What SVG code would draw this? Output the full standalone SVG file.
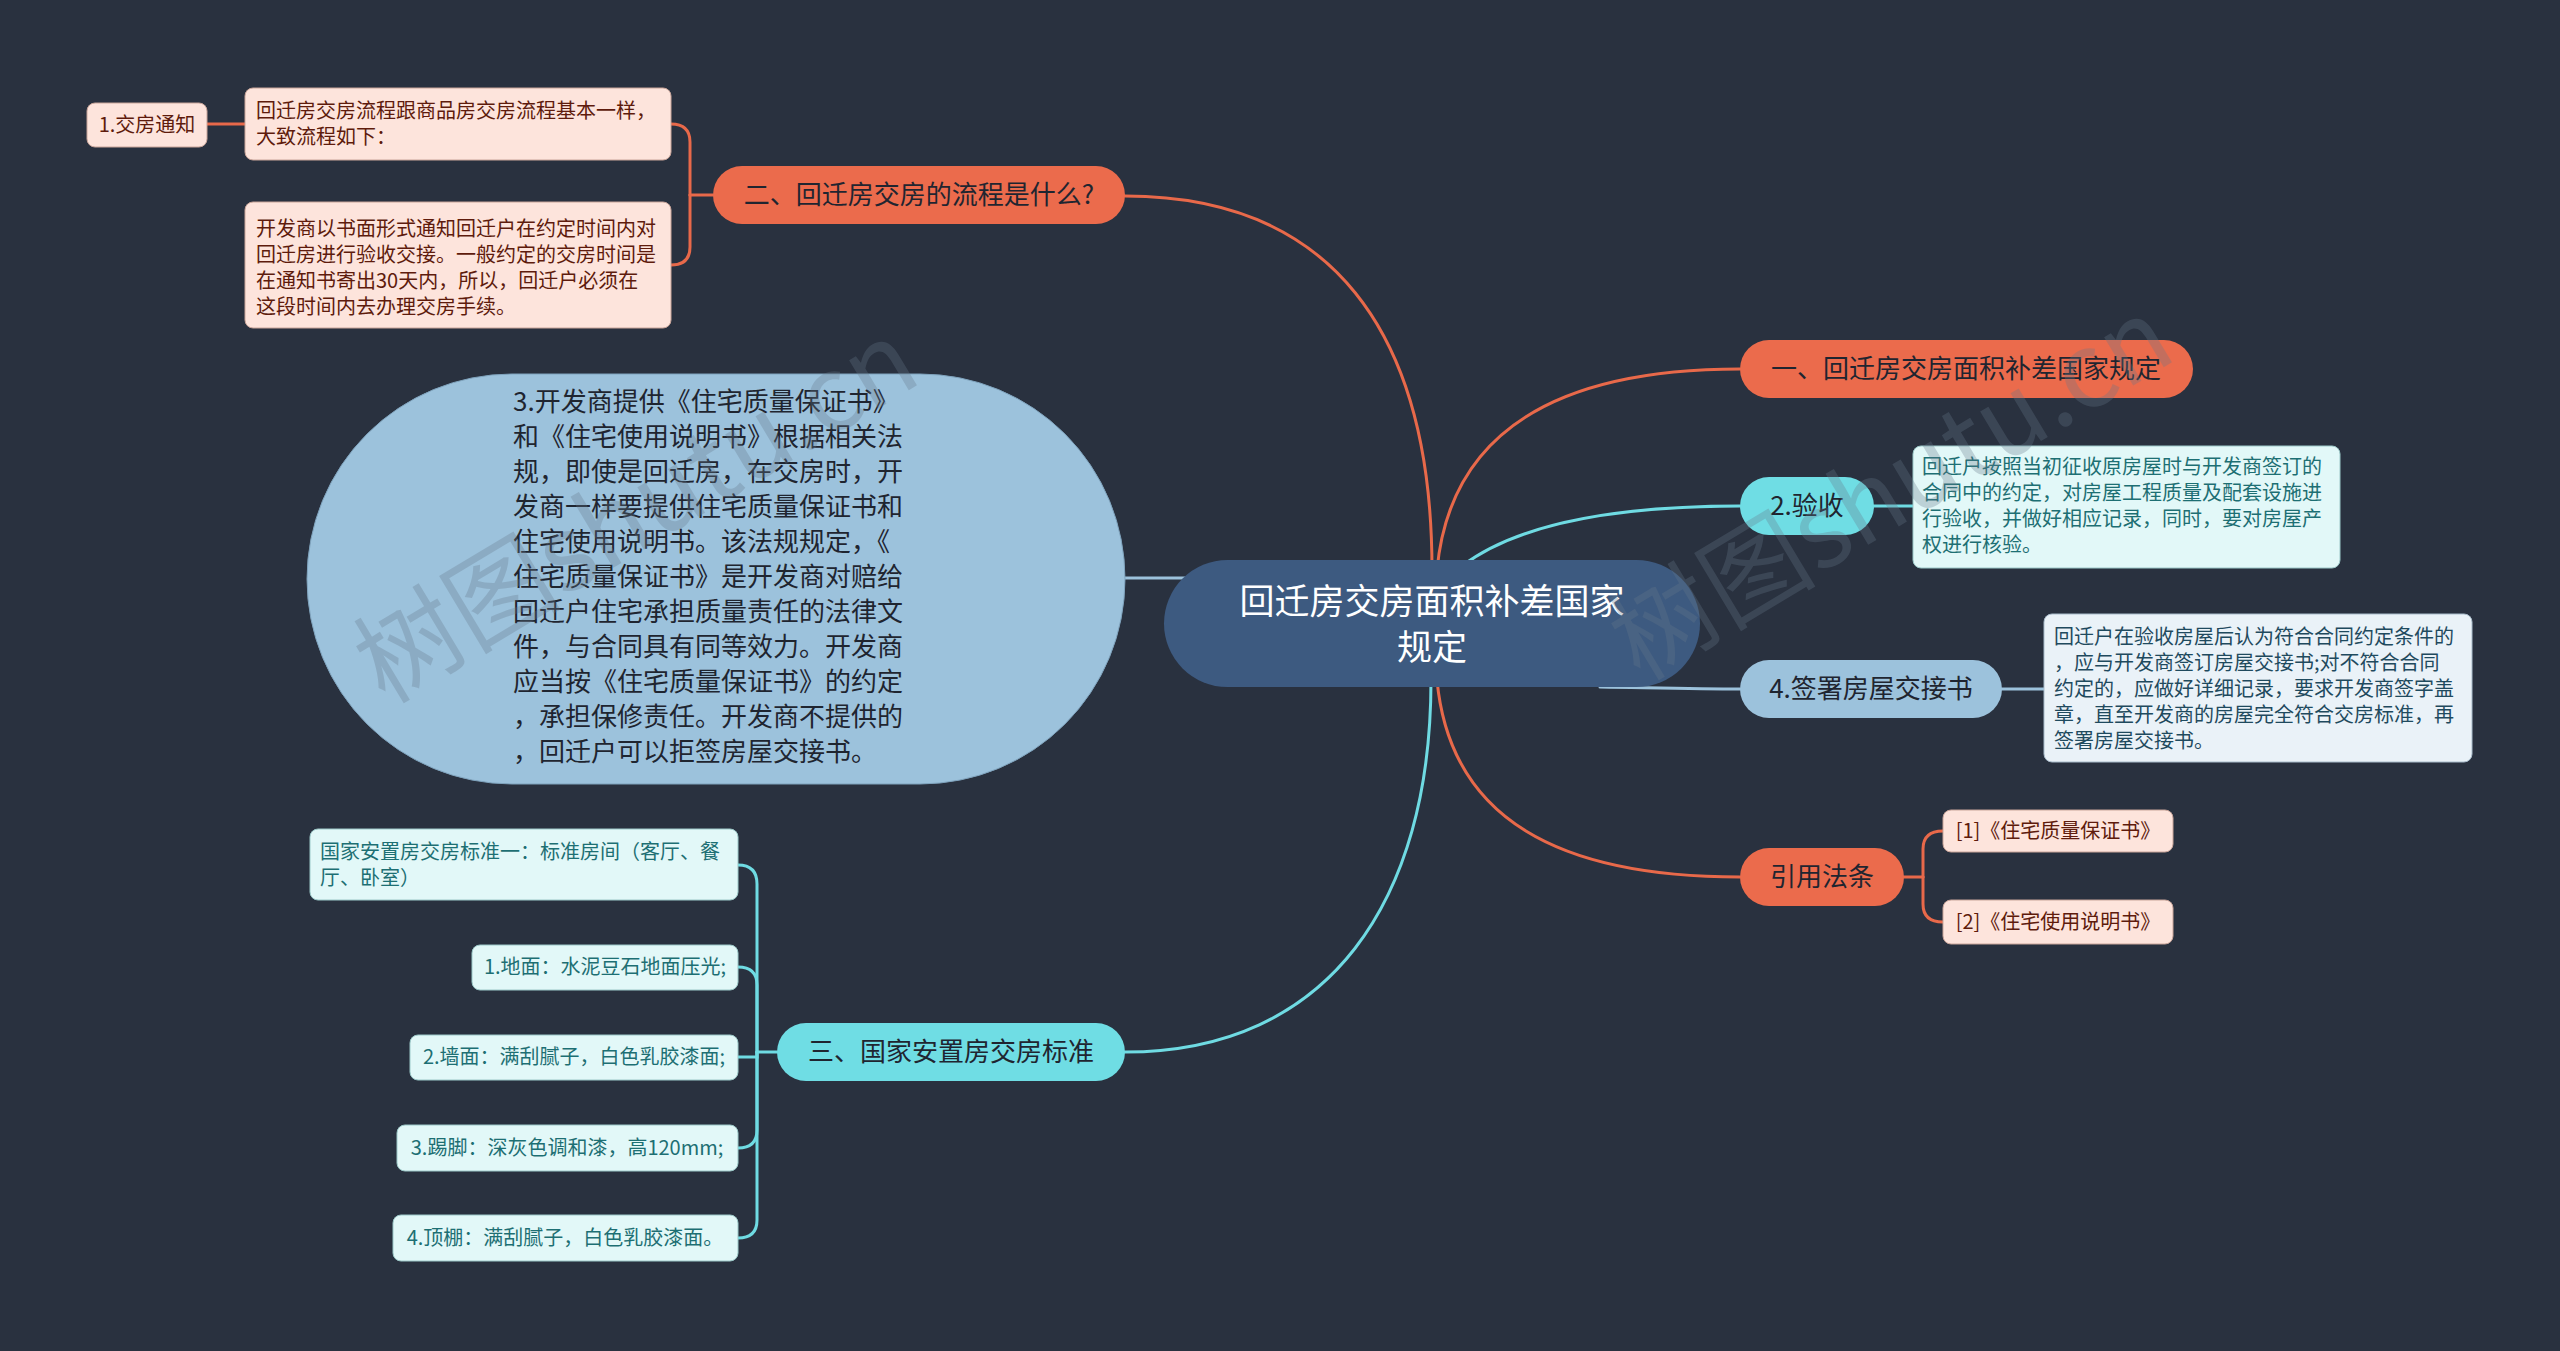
<svg xmlns="http://www.w3.org/2000/svg" width="2560" height="1351" viewBox="0 0 2560 1351">
<style>
text{font-family:"Noto Sans CJK SC","Liberation Sans",sans-serif;}
.c{stroke-width:3;fill:none;stroke-linecap:round}
.or{stroke:#e8694a}
.cy{stroke:#6fdbe3}
.lb{stroke:#9cc2dc}
.t26{font-size:26px}
.t20{font-size:20px}
.mid{text-anchor:middle}
.pOr{fill:#eb6b4c}
.pCy{fill:#6fdde4}
.pLb{fill:#9cc2dc}
.bOr{fill:#fde4dc;stroke:#c9a59a;stroke-width:1}
.bCy{fill:#e2f8f8;stroke:#9cc9c9;stroke-width:1}
.bLb{fill:#eaf2f8;stroke:#a9bccb;stroke-width:1}
.tOr{fill:#5e1b0c}
.tCy{fill:#1d6f73}
.tLb{fill:#1f4a5e}
.dark{fill:#1f2530}
.wm{font-size:104px;fill:#66788a;opacity:0.3;font-family:"Noto Sans CJK SC","Liberation Serif",serif}
</style>
<rect width="2560" height="1351" fill="#29313f"/>

<g id="connectors">
  <path class="c or" d="M1432 570 C1432 330 1330 196 1125 196"/>
  <path class="c or" d="M1437 570 C1450 430 1560 369 1740 369"/>
  <path class="c cy" d="M1462 566 C1520 522 1620 506 1740 506"/>
  <path class="c lb" d="M1600 687 C1660 688 1700 689 1740 689"/>
  <path class="c or" d="M1437 680 C1450 820 1560 877 1740 877"/>
  <path class="c cy" d="M1431 680 C1431 900 1330 1052 1125 1052"/>
  <path class="c lb" d="M1200 578 L1125 578"/>
  <path class="c or" d="M713 195 L690 195"/>
  <path class="c or" d="M690 195 L690 142 Q690 124 671 124"/>
  <path class="c or" d="M690 195 L690 247 Q690 265 671 265"/>
  <path class="c or" d="M207 124 L245 124"/>
  <path class="c cy" d="M1874 506 L1913 506"/>
  <path class="c lb" d="M2002 689 L2044 689"/>
  <path class="c or" d="M1904 877 L1923 877"/>
  <path class="c or" d="M1923 877 L1923 849 Q1923 831 1943 831"/>
  <path class="c or" d="M1923 877 L1923 904 Q1923 922 1943 922"/>
  <path class="c cy" d="M777 1052 L757 1052"/>
  <path class="c cy" d="M757 1052 L757 884 Q757 865 738 865"/>
  <path class="c cy" d="M757 1052 L757 985 Q757 967 738 967"/>
  <path class="c cy" d="M757 1052 L757 1057 L738 1057"/>
  <path class="c cy" d="M757 1052 L757 1130 Q757 1148 738 1148"/>
  <path class="c cy" d="M757 1052 L757 1220 Q757 1238 738 1238"/>
</g>

<g id="center">
  <rect x="1164" y="560" width="536" height="127" rx="63.5" fill="#3d5a80"/>
  <text class="mid" x="1432" y="614" font-size="35" fill="#ffffff">回迁房交房面积补差国家</text>
  <text class="mid" x="1432" y="660" font-size="35" fill="#ffffff">规定</text>
</g>

<g id="n-yi">
  <rect class="pOr" x="1740" y="340" width="453" height="58" rx="29"/>
  <text class="t26 mid dark" x="1966" y="378">一、回迁房交房面积补差国家规定</text>
</g>

<g id="n-yanshou">
  <rect class="pCy" x="1740" y="477" width="134" height="58" rx="29"/>
  <text class="t26 mid dark" x="1807" y="515">2.验收</text>
</g>
<g id="n-yanshou-d">
  <rect class="bCy" x="1913" y="446" width="427" height="122" rx="8"/>
  <text class="t20 tCy"><tspan x="1922" y="474">回迁户按照当初征收原房屋时与开发商签订的</tspan><tspan x="1922" y="500">合同中的约定，对房屋工程质量及配套设施进</tspan><tspan x="1922" y="526">行验收，并做好相应记录，同时，要对房屋产</tspan><tspan x="1922" y="552">权进行核验。</tspan></text>
</g>

<g id="n-qianshu">
  <rect class="pLb" x="1740" y="660" width="262" height="58" rx="29"/>
  <text class="t26 mid dark" x="1871" y="698">4.签署房屋交接书</text>
</g>
<g id="n-qianshu-d">
  <rect class="bLb" x="2044" y="614" width="428" height="148" rx="8"/>
  <text class="t20 tLb"><tspan x="2054" y="644">回迁户在验收房屋后认为符合合同约定条件的</tspan><tspan x="2054" y="670">，应与开发商签订房屋交接书;对不符合合同</tspan><tspan x="2054" y="696">约定的，应做好详细记录，要求开发商签字盖</tspan><tspan x="2054" y="722">章，直至开发商的房屋完全符合交房标准，再</tspan><tspan x="2054" y="748">签署房屋交接书。</tspan></text>
</g>

<g id="n-fatiao">
  <rect class="pOr" x="1740" y="848" width="164" height="58" rx="29"/>
  <text class="t26 mid dark" x="1822" y="886">引用法条</text>
</g>
<g id="n-fatiao-1">
  <rect class="bOr" x="1943" y="810" width="230" height="42" rx="8"/>
  <text class="t20 mid tOr" x="2058" y="838">[1]《住宅质量保证书》</text>
</g>
<g id="n-fatiao-2">
  <rect class="bOr" x="1943" y="900" width="230" height="44" rx="8"/>
  <text class="t20 mid tOr" x="2058" y="929">[2]《住宅使用说明书》</text>
</g>

<g id="n-er">
  <rect class="pOr" x="713" y="166" width="412" height="58" rx="29"/>
  <text class="t26 mid dark" x="919" y="204">二、回迁房交房的流程是什么?</text>
</g>
<g id="n-er-1">
  <rect class="bOr" x="245" y="88" width="426" height="72" rx="8"/>
  <text class="t20 tOr"><tspan x="256" y="118">回迁房交房流程跟商品房交房流程基本一样，</tspan><tspan x="256" y="144">大致流程如下：</tspan></text>
</g>
<g id="n-er-1a">
  <rect class="bOr" x="87" y="103" width="120" height="44" rx="8"/>
  <text class="t20 mid tOr" x="147" y="132">1.交房通知</text>
</g>
<g id="n-er-2">
  <rect class="bOr" x="245" y="202" width="426" height="126" rx="8"/>
  <text class="t20 tOr"><tspan x="256" y="236">开发商以书面形式通知回迁户在约定时间内对</tspan><tspan x="256" y="262">回迁房进行验收交接。一般约定的交房时间是</tspan><tspan x="256" y="288">在通知书寄出30天内，所以，回迁户必须在</tspan><tspan x="256" y="314">这段时间内去办理交房手续。</tspan></text>
</g>

<g id="n-big">
  <rect x="307" y="374" width="818" height="410" rx="205" ry="205" fill="#9cc2dc" stroke="#7fa3bd" stroke-width="1"/>
  <text class="t26 dark"><tspan x="513" y="411">3.开发商提供《住宅质量保证书》</tspan><tspan x="513" y="446">和《住宅使用说明书》根据相关法</tspan><tspan x="513" y="481">规，即使是回迁房，在交房时，开</tspan><tspan x="513" y="516">发商一样要提供住宅质量保证书和</tspan><tspan x="513" y="551">住宅使用说明书。该法规规定，《</tspan><tspan x="513" y="586">住宅质量保证书》是开发商对赔给</tspan><tspan x="513" y="621">回迁户住宅承担质量责任的法律文</tspan><tspan x="513" y="656">件，与合同具有同等效力。开发商</tspan><tspan x="513" y="691">应当按《住宅质量保证书》的约定</tspan><tspan x="513" y="726">，承担保修责任。开发商不提供的</tspan><tspan x="513" y="761">，回迁户可以拒签房屋交接书。</tspan></text>
</g>

<g id="n-san">
  <rect class="pCy" x="777" y="1023" width="348" height="58" rx="29"/>
  <text class="t26 mid dark" x="951" y="1061">三、国家安置房交房标准</text>
</g>
<g id="n-san-0">
  <rect class="bCy" x="310" y="829" width="428" height="71" rx="8"/>
  <text class="t20 tCy"><tspan x="320" y="859">国家安置房交房标准一：标准房间（客厅、餐</tspan><tspan x="320" y="885">厅、卧室）</tspan></text>
</g>
<g id="n-san-1">
  <rect class="bCy" x="472" y="945" width="266" height="45" rx="8"/>
  <text class="t20 mid tCy" x="605" y="974">1.地面：水泥豆石地面压光;</text>
</g>
<g id="n-san-2">
  <rect class="bCy" x="410" y="1035" width="328" height="45" rx="8"/>
  <text class="t20 mid tCy" x="574" y="1064">2.墙面：满刮腻子，白色乳胶漆面;</text>
</g>
<g id="n-san-3">
  <rect class="bCy" x="397" y="1125" width="341" height="46" rx="8"/>
  <text class="t20 mid tCy" x="567" y="1155">3.踢脚：深灰色调和漆，高120mm;</text>
</g>
<g id="n-san-4">
  <rect class="bCy" x="393" y="1215" width="345" height="46" rx="8"/>
  <text class="t20 mid tCy" x="565" y="1245">4.顶棚：满刮腻子，白色乳胶漆面。</text>
</g>

<g id="watermarks">
  <text class="wm" transform="translate(385 705) rotate(-31)">树图shutu.cn</text>
  <text class="wm" transform="translate(1640 682) rotate(-31)">树图shutu.cn</text>
</g>
</svg>
